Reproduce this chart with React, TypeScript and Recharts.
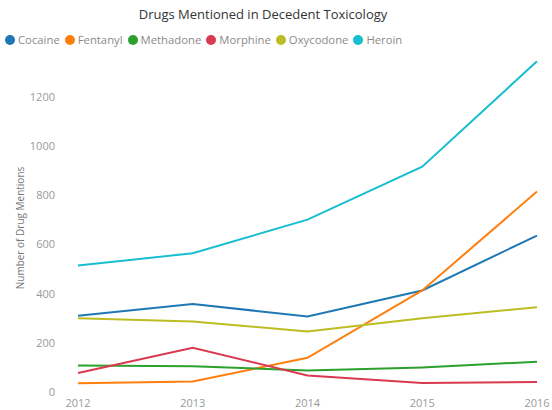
import React from "react";
import { LineChart, Line, XAxis, YAxis, CartesianGrid } from "recharts";

const years = ["2012", "2013", "2014", "2015", "2016"];
const cocaine = [310, 358, 307, 413, 636];
const fentanyl = [36, 43, 139, 413, 815];
const methadone = [108, 105, 87, 100, 123];
const morphine = [77, 180, 67, 37, 41];
const oxycodone = [300, 287, 246, 300, 345];
const heroin = [514, 564, 701, 916, 1345];
const yTicks = [0, 200, 400, 600, 800, 1000, 1200];

const series = [
  { key: "Cocaine", values: cocaine, color: "#1f77b4" },
  { key: "Fentanyl", values: fentanyl, color: "#ff7f0e" },
  { key: "Methadone", values: methadone, color: "#2ca02c" },
  { key: "Morphine", values: morphine, color: "#d93a4f" },
  { key: "Oxycodone", values: oxycodone, color: "#bcbd22" },
  { key: "Heroin", values: heroin, color: "#17becf" },
];

const data = years.map((y, i) => {
  const row: Record<string, string | number> = { year: y };
  series.forEach((s) => (row[s.key] = s.values[i]));
  return row;
});

const FONT = "'Segoe UI', 'Open Sans', 'DejaVu Sans', sans-serif";

const YLabel = (props: any) => {
  const vb = props.viewBox || { x: 0, y: 0, width: 0, height: 0 };
  const cx = vb.x + 20;
  const cy = vb.y + vb.height / 2 + 2;
  return (
    <text
      x={cx}
      y={cy}
      transform={`rotate(-90, ${cx}, ${cy})`}
      textAnchor="middle"
      dominantBaseline="central"
      fill="#777"
      fontSize={10}
      fontFamily={FONT}
    >
      Number of Drug Mentions
    </text>
  );
};

const gridGen = (args: any) => {
  const scale = args && args.yAxis && args.yAxis.scale;
  if (typeof scale === "function") return yTicks.map((t) => scale(t));
  return [];
};

export default function App() {
  return (
    <div style={{ position: "absolute", left: 0, top: 0, width: 552, height: 410, background: "#fff", fontFamily: FONT }}>
      <div style={{ position: "absolute", left: 0, top: 5, width: 526, textAlign: "center", fontSize: 13, color: "#333" }}>
        Drugs Mentioned in Decedent Toxicology
      </div>
      <div style={{ position: "absolute", left: 5, top: 32, display: "flex", alignItems: "center", fontSize: 11.3, color: "#8a8a8a" }}>
        {series.map((s) => (
          <div key={s.key} style={{ display: "flex", alignItems: "center", marginRight: 5 }}>
            <span style={{ display: "inline-block", width: 10, height: 10, borderRadius: 5, background: s.color, marginRight: 3 }} />
            <span>{s.key}</span>
          </div>
        ))}
      </div>
      <LineChart width={552} height={410} data={data} margin={{ top: 60, right: 2, bottom: 0, left: 0 }}>
        <CartesianGrid horizontal={true} vertical={false} stroke="#efefef" horizontalCoordinatesGenerator={gridGen} />
        <XAxis
          dataKey="year"
          axisLine={false}
          tickLine={false}
          tickSize={0}
          tickMargin={7}
          height={18}
          padding={{ left: 11, right: 13 }}
          tick={{ fill: "#999", fontSize: 11, fontFamily: FONT }}
          interval={0}
        />
        <YAxis
          width={67}
          domain={[0, 1350]}
          ticks={yTicks}
          axisLine={false}
          tickLine={false}
          tickSize={0}
          tickMargin={12}
          tick={{ fill: "#999", fontSize: 11, fontFamily: FONT }}
          label={<YLabel />}
        />
        {series.map((s) => (
          <Line
            key={s.key}
            type="linear"
            dataKey={s.key}
            stroke={s.color}
            strokeWidth={2}
            dot={false}
            activeDot={false}
            isAnimationActive={false}
          />
        ))}
      </LineChart>
    </div>
  );
}
